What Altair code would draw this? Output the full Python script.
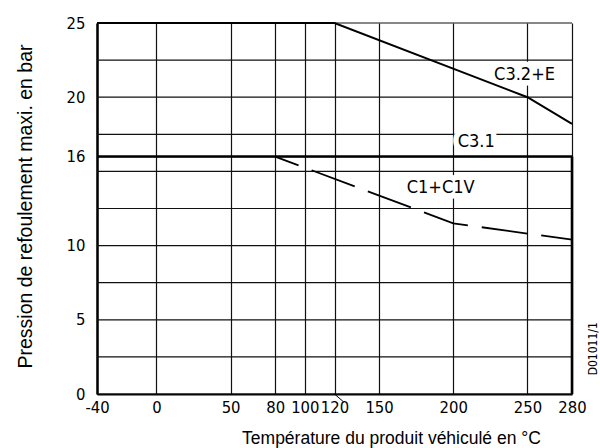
import altair as alt
import pandas as pd

# ---- data ----
x_ticks = [-40, 0, 50, 80, 100, 120, 150, 200, 250, 280]
y_labels = [0, 5, 10, 16, 20, 25]
y_grid = [0, 2.5, 5, 7.5, 10, 12.5, 15, 16, 17.5, 20, 22.5, 25]

c32e_x = [-40, 120, 250, 280]
c32e_y = [25, 25, 20, 18.2]
c31_x = [-40, 280]
c31_y = [16, 16]
c1_x = [80, 200, 280]
c1_y = [16, 11.5, 10.4]

lab_text = ["C3.2+E", "C3.1", "C1+C1V"]
lab_x = [248, 215.5, 191.5]
lab_y = [21.5, 17.0, 13.85]

border_x = [280]
border_y = [0]
border_y2 = [16]

leader_x = [120]
leader_y = [0]
leader_x2 = [126.2]
leader_y2 = [-0.54]

ref_text = ["D01011/1"]
ref_x = [297.0]
ref_y = [3.05]

TICK_FONT = "DejaVu Sans Condensed, Liberation Sans Narrow, sans-serif"
TITLE_FONT = "Liberation Sans, Arial, sans-serif"

xs = alt.Scale(domain=[-40, 280], nice=False, zero=False)
ys = alt.Scale(domain=[0, 25], nice=False, zero=False)

lines = pd.concat([
    pd.DataFrame({"x": c32e_x, "y": c32e_y, "s": "C3.2+E"}),
    pd.DataFrame({"x": c31_x, "y": c31_y, "s": "C3.1"}),
])
dashed = pd.DataFrame({"x": c1_x, "y": c1_y})
labels = pd.DataFrame({"t": lab_text, "x": lab_x, "y": lab_y})
hgrid = pd.DataFrame({"y": y_grid})

xaxis = alt.Axis(
    values=x_ticks, grid=True, gridColor="#111", gridWidth=1.2, gridOpacity=1,
    ticks=False, domainColor="black", domainWidth=2,
    labelFont=TICK_FONT, labelFontSize=16.5, labelColor="black", labelPadding=5,
    labelFlush=False, labelOverlap=False, labelExpr="replace(datum.label, '\u2212', '-')",
    title="Température du produit véhiculé en °C", titleFont=TITLE_FONT,
    titleFontSize=17.5, titleFontWeight="normal", titleColor="black",
    titleX=294, titleY=49, titleAlign="center", titleBaseline="alphabetic",
)
yaxis = alt.Axis(
    values=y_labels, grid=False,
    ticks=False, domainColor="black", domainWidth=2.5,
    labelFont=TICK_FONT, labelFontSize=16.5, labelColor="black", labelPadding=12,
    labelOverlap=False, labelFlush=False,
    title="Pression de refoulement maxi. en bar", titleFont=TITLE_FONT,
    titleFontSize=19.5, titleFontWeight="normal", titleColor="black",
    titleX=-66, titleY=183, titleAlign="center", titleBaseline="alphabetic", titleAngle=-90,
)

grid = alt.Chart(hgrid).mark_rule(color="#111", strokeWidth=1.2).encode(
    y=alt.Y("y:Q", scale=ys, axis=yaxis),
)

solid = alt.Chart(lines).mark_line(color="black", clip=False).encode(
    x=alt.X("x:Q", scale=xs, axis=xaxis),
    y=alt.Y("y:Q", scale=ys),
    detail="s:N",
    strokeWidth=alt.condition("datum.s == 'C3.1'", alt.value(2.6), alt.value(2)),
)

halo = alt.Chart(labels).mark_text(
    font=TICK_FONT, fontSize=18, stroke="white", strokeWidth=11, fill="white",
    strokeJoin="miter", align="center", baseline="middle",
).encode(x="x:Q", y="y:Q", text="t:N")

text = alt.Chart(labels).mark_text(
    font=TICK_FONT, fontSize=18, color="black", align="center", baseline="middle",
).encode(x="x:Q", y="y:Q", text="t:N")

dash = alt.Chart(dashed).mark_line(
    color="black", strokeWidth=1.8, strokeDash=[46, 14], strokeDashOffset=21,
).encode(x="x:Q", y="y:Q")

border = alt.Chart(pd.DataFrame({"x": border_x, "y": border_y, "y2": border_y2})).mark_rule(
    color="black", strokeWidth=2.6
).encode(x="x:Q", y="y:Q", y2="y2:Q")

leader = alt.Chart(pd.DataFrame({"x": leader_x, "y": leader_y, "x2": leader_x2, "y2": leader_y2})).mark_rule(
    color="black", strokeWidth=1, clip=False
).encode(x="x:Q", y="y:Q", x2="x2:Q", y2="y2:Q")

ref = alt.Chart(pd.DataFrame({"t": ref_text, "x": ref_x, "y": ref_y})).mark_text(
    font=TICK_FONT, fontSize=12, color="black", angle=270, align="center",
    baseline="alphabetic", clip=False,
).encode(x="x:Q", y="y:Q", text="t:N")

chart = alt.layer(grid, halo, solid, dash, border, leader, text, ref).properties(
    width=475, height=371,
    autosize=alt.AutoSizeParams(type="none"),
    padding={"left": 97, "top": 23, "right": 28, "bottom": 54},
    background="white",
).configure_view(strokeWidth=0)

chart.save("out.html", embed_options={"renderer": "svg", "actions": False})
